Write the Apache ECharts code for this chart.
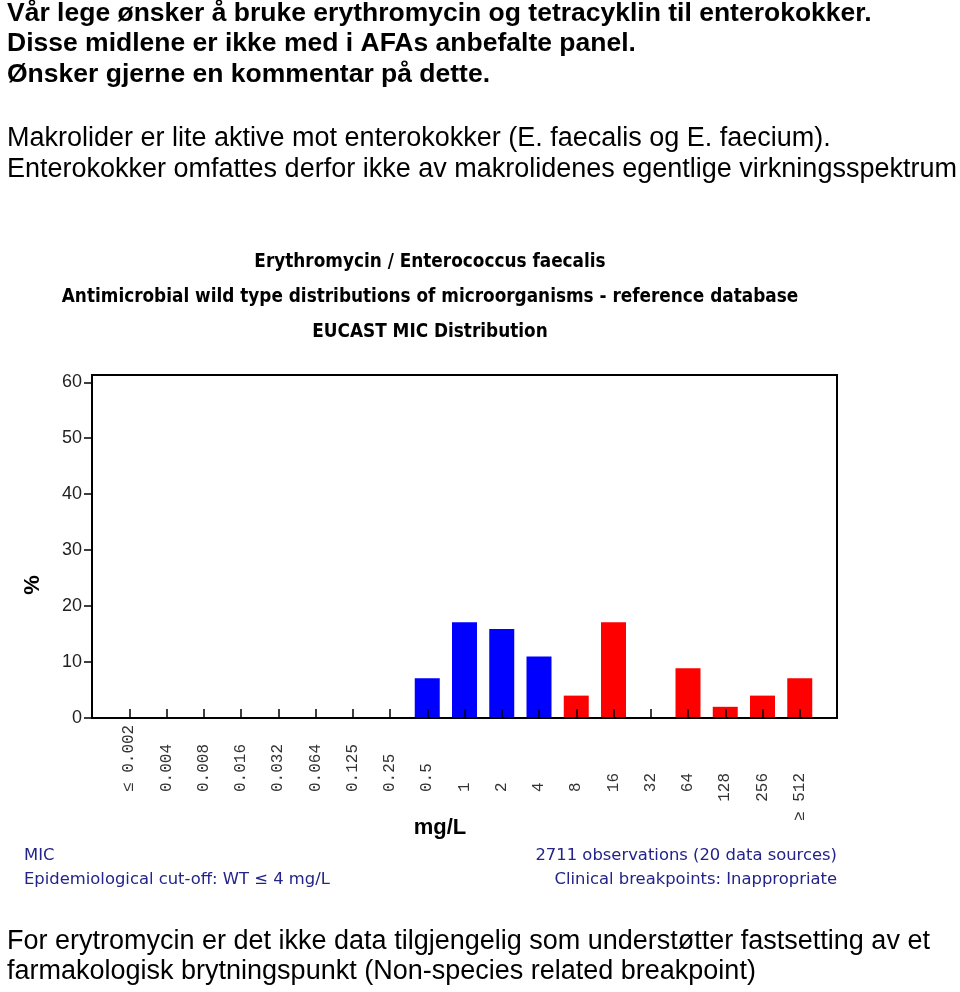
<!DOCTYPE html>
<html><head><meta charset="utf-8">
<script src="https://cdn.jsdelivr.net/npm/echarts@6/dist/echarts.min.js"></script>
<style>html,body{margin:0;padding:0;background:#fff}#c{width:960px;height:992px}</style>
</head><body><div id="c"></div>
<script>
// ---- data ----
const categories = ['≤ 0.002','0.004','0.008','0.016','0.032','0.064','0.125','0.25','0.5','1','2','4','8','16','32','64','128','256','≥ 512'];
const percentValues = [0,0,0,0,0,0,0,0,7.1,17.1,15.9,11.0,4.0,17.1,0,8.9,2.0,4.0,7.1];
const wildTypeCutoff = '4';          // MIC values up to this one are wild type (blue)
const lowerLabelEnd = '8';           // labels up to this one hang from the lower line
const yTicks = [0,10,20,30,40,50,60];
const headerLines = [
  'Vår lege ønsker å bruke erythromycin og tetracyklin til enterokokker.',
  'Disse midlene er ikke med i AFAs anbefalte panel.',
  'Ønsker gjerne en kommentar på dette.'
];
const bodyLines = [
  'Makrolider er lite aktive mot enterokokker (E. faecalis og E. faecium).',
  'Enterokokker omfattes derfor ikke av makrolidenes egentlige virkningsspektrum'
];
const footerLines = [
  'For erytromycin er det ikke data tilgjengelig som understøtter fastsetting av et',
  'farmakologisk brytningspunkt (Non-species related breakpoint)'
];
const chartTitles = [
  'Erythromycin / Enterococcus faecalis',
  'Antimicrobial wild type distributions of microorganisms - reference database',
  'EUCAST MIC Distribution'
];
const noteLeft = ['MIC', 'Epidemiological cut-off: WT ≤ 4 mg/L'];
const noteRight = ['2711 observations (20 data sources)', 'Clinical breakpoints: Inappropriate'];
const xName = 'mg/L';
const yName = '%';

// ---- build ----
const axisCats = [''].concat(categories, ['']);
const axisVals = [null].concat(percentValues, [null]);
const cutIdx = axisCats.indexOf(wildTypeCutoff);
const lowEndIdx = axisCats.indexOf(lowerLabelEnd);
const BLUE = '#0000ff', RED = '#ff0000';
const tickFont = '"Liberation Mono", "DejaVu Sans Mono", monospace';

const graphics = [];
function addLines(lines, x, ys, font, color, align) {
  lines.forEach((t, i) => graphics.push({
    type: 'text', x: x, y: ys[i], silent: true,
    style: { text: t, font: font, fill: color, align: align || 'left', verticalAlign: 'middle' }
  }));
}
addLines(headerLines, 7, [14, 44, 75], 'bold 26.5px "Liberation Sans", Arial, sans-serif', '#000');
addLines(bodyLines, 7, [139, 170], '27px "Liberation Sans", Arial, sans-serif', '#000');
addLines(footerLines, 7, [942, 972], '27px "Liberation Sans", Arial, sans-serif', '#000');
addLines(chartTitles, 430, [262, 297, 332], 'bold 18.8px "DejaVu Sans Condensed", "Liberation Sans Narrow", sans-serif', '#000', 'center');
addLines(noteLeft, 24, [856, 880], '16.4px "DejaVu Sans", sans-serif', '#23238a');
addLines(noteRight, 837, [856, 880], '16.4px "DejaVu Sans", sans-serif', '#23238a', 'right');
graphics.push({ type: 'text', x: 440, y: 828, silent: true,
  style: { text: xName, font: 'bold 22px "Liberation Sans", Arial, sans-serif', fill: '#000', align: 'center', verticalAlign: 'middle' } });
graphics.push({ type: 'text', x: 33, y: 585, rotation: Math.PI / 2, silent: true,
  style: { text: yName, font: 'bold 22px "Liberation Sans", Arial, sans-serif', fill: '#000', align: 'center', verticalAlign: 'middle' } });

const chart = echarts.init(document.getElementById('c'), null, { renderer: 'canvas' });
chart.setOption({
  backgroundColor: '#fff',
  animation: false,
  grid: { left: 92, right: 123, top: 375, bottom: 274, show: true, borderColor: '#000', borderWidth: 2, backgroundColor: 'transparent' },
  xAxis: [{
    type: 'category', data: axisCats, boundaryGap: false, z: 3,
    axisLine: { lineStyle: { color: '#000', width: 2 } },
    axisTick: { show: true, inside: true, length: 9, interval: 0, lineStyle: { color: '#000', width: 1.5 } },
    axisLabel: {
      interval: 0, rotate: 90, align: 'left', margin: 74,
      fontFamily: tickFont, fontSize: 16, color: '#333',
      formatter: (v, i) => (i >= 1 && i <= lowEndIdx) ? v : ''
    },
    splitLine: { show: false }
  }, {
    type: 'category', data: axisCats, boundaryGap: false, position: 'bottom', gridIndex: 0,
    axisLine: { show: false }, axisTick: { show: false },
    axisLabel: {
      interval: 0, rotate: 90, margin: 55,
      fontFamily: tickFont, fontSize: 16, color: '#333',
      formatter: (v, i) => (i > lowEndIdx) ? v : ''
    },
    splitLine: { show: false }
  }],
  yAxis: {
    type: 'value', min: 0, max: 61.3, interval: 10,
    axisLine: { show: true, lineStyle: { color: '#000', width: 2 } },
    axisTick: { show: true, length: 8, customValues: yTicks, lineStyle: { color: '#000', width: 1.5 } },
    axisLabel: { margin: 10, customValues: yTicks, fontFamily: '"Liberation Sans", Arial, sans-serif', fontSize: 18, color: '#222',
      formatter: v => (yTicks.indexOf(v) >= 0 ? String(v) : '') },
    splitLine: { show: false }
  },
  series: [{
    type: 'bar', xAxisIndex: 0, data: axisVals, barWidth: 25,
    itemStyle: { color: p => (p.dataIndex <= cutIdx ? BLUE : RED) }
  }],
  graphic: graphics
});
</script>
</body></html>
